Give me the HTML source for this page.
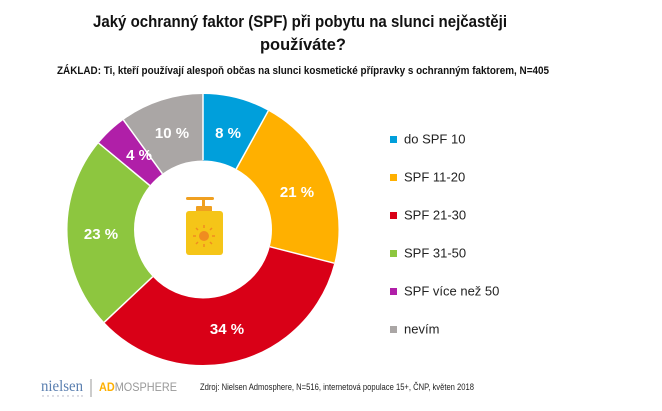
<!DOCTYPE html>
<html><head><meta charset="utf-8"><style>body{margin:0;background:#fff}svg{display:block}</style></head><body>
<svg width="662" height="411" viewBox="0 0 662 411" xmlns="http://www.w3.org/2000/svg" font-family="Liberation Sans, sans-serif">
<text x="300" y="27" font-size="17" font-weight="bold" text-anchor="middle" textLength="414" lengthAdjust="spacingAndGlyphs" fill="#111">Jaký ochranný faktor (SPF) při pobytu na slunci nejčastěji</text>
<text x="303" y="50" font-size="17" font-weight="bold" text-anchor="middle" textLength="86" lengthAdjust="spacingAndGlyphs" fill="#111">používáte?</text>
<text x="303" y="74" font-size="11" font-weight="bold" text-anchor="middle" textLength="492" lengthAdjust="spacingAndGlyphs" fill="#111">ZÁKLAD: Ti, kteří používají alespoň občas na slunci kosmetické přípravky s ochranným faktorem, N=405</text>
<g transform="rotate(-90 203 229.5)" fill="none" stroke-width="66.5">
<circle cx="203" cy="229.5" r="102.25" stroke="#009fdb" stroke-dasharray="51.40 642.45" stroke-dashoffset="0"/>
<circle cx="203" cy="229.5" r="102.25" stroke="#ffb000" stroke-dasharray="134.91 642.45" stroke-dashoffset="-51.40"/>
<circle cx="203" cy="229.5" r="102.25" stroke="#d90017" stroke-dasharray="218.43 642.45" stroke-dashoffset="-186.31"/>
<circle cx="203" cy="229.5" r="102.25" stroke="#8dc63f" stroke-dasharray="147.76 642.45" stroke-dashoffset="-404.74"/>
<circle cx="203" cy="229.5" r="102.25" stroke="#b01fa8" stroke-dasharray="25.70 642.45" stroke-dashoffset="-552.50"/>
<circle cx="203" cy="229.5" r="102.25" stroke="#aaa6a5" stroke-dasharray="64.25 642.45" stroke-dashoffset="-578.20"/>
</g>
<g stroke="#fff" stroke-width="1.5">
<line x1="203" y1="160" x2="203" y2="93"/>
<line x1="236.2" y1="169" x2="268.3" y2="110.8"/>
<line x1="269.8" y1="246.7" x2="334.2" y2="263.2"/>
<line x1="152.7" y1="276.7" x2="104.2" y2="322.3"/>
<line x1="149.8" y1="185.5" x2="98.6" y2="143.1"/>
<line x1="162.4" y1="173.7" x2="123.4" y2="119.9"/>
</g>
<g fill="#fff" font-size="15" font-weight="bold" text-anchor="middle">
<text x="228" y="138">8 %</text>
<text x="172" y="138">10 %</text>
<text x="139" y="160">4 %</text>
<text x="297" y="197">21 %</text>
<text x="101" y="239">23 %</text>
<text x="227" y="334">34 %</text>
</g>
<rect x="186" y="197" width="28" height="3" rx="1.5" fill="#f0a020"/>
<rect x="202" y="199" width="3" height="8" fill="#f0a020"/>
<rect x="196" y="206" width="16" height="6" rx="1" fill="#f0a020"/>
<rect x="186" y="211" width="37" height="44" rx="3" fill="#f5c518"/>
<circle cx="204" cy="236" r="5" fill="#f08c20"/>
<g stroke="#f08c20" stroke-width="1.5">
<line x1="204" y1="225" x2="204" y2="228"/><line x1="204" y1="244" x2="204" y2="247"/>
<line x1="193" y1="236" x2="196" y2="236"/><line x1="212" y1="236" x2="215" y2="236"/>
<line x1="196" y1="228" x2="198" y2="230"/><line x1="210" y1="242" x2="212" y2="244"/>
<line x1="212" y1="228" x2="210" y2="230"/><line x1="196" y1="244" x2="198" y2="242"/>
</g>
<g font-size="13" fill="#222">
<rect x="390" y="136" width="7" height="7" fill="#009fdb"/><text x="404" y="143.5">do SPF 10</text>
<rect x="390" y="174" width="7" height="7" fill="#ffb000"/><text x="404" y="181.5">SPF 11-20</text>
<rect x="390" y="212" width="7" height="7" fill="#d90017"/><text x="404" y="219.5">SPF 21-30</text>
<rect x="390" y="250" width="7" height="7" fill="#8dc63f"/><text x="404" y="257.5">SPF 31-50</text>
<rect x="390" y="288" width="7" height="7" fill="#b01fa8"/><text x="404" y="295.5">SPF více než 50</text>
<rect x="390" y="326" width="7" height="7" fill="#aaa6a5"/><text x="404" y="333.5">nevím</text>
</g>
<text x="41" y="391" font-family="Liberation Serif, serif" font-size="16" fill="#5a7fb0" textLength="42" lengthAdjust="spacingAndGlyphs">nielsen</text>
<g fill="#aab">
<circle cx="43" cy="396" r="0.7"/><circle cx="48" cy="396" r="0.7"/><circle cx="53" cy="396" r="0.7"/><circle cx="58" cy="396" r="0.7"/><circle cx="63" cy="396" r="0.7"/><circle cx="68" cy="396" r="0.7"/><circle cx="73" cy="396" r="0.7"/><circle cx="78" cy="396" r="0.7"/><circle cx="82" cy="396" r="0.7"/>
</g>
<line x1="91" y1="379" x2="91" y2="397" stroke="#999" stroke-width="1"/>
<text x="99" y="391" font-size="12" textLength="78" lengthAdjust="spacingAndGlyphs"><tspan fill="#ffb000" font-weight="bold">AD</tspan><tspan fill="#999">MOSPHERE</tspan></text>
<text x="200" y="390" font-size="9.5" fill="#222" textLength="274" lengthAdjust="spacingAndGlyphs">Zdroj: Nielsen Admosphere, N=516, internetová populace 15+, ČNP, květen 2018</text>
</svg>
</body></html>
